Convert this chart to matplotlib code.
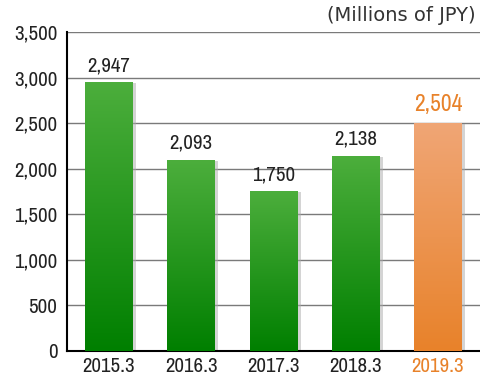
import matplotlib
matplotlib.use('Agg')
import matplotlib.pyplot as plt
import matplotlib.colors as colors
from matplotlib import font_manager
import numpy as np

years = ['2015.3', '2016.3', '2017.3', '2018.3', '2019.3']
values = [2947, 2093, 1750, 2138, 2504]
highlight = [False, False, False, False, True]

green = ('#4cae3c', '#007f00')
orange = ('#f0a676', '#e8822a')

names = sorted(set(f.name for f in font_manager.fontManager.ttflist))
narrow = [n for n in names if 'Narrow' in n or 'Condensed' in n]
plt.rcParams['font.family'] = narrow[:1] + ['DejaVu Sans']

fig = plt.figure(figsize=(4.8, 3.76), dpi=100)
ax = fig.add_axes([0.1396, 0.0665, 0.8604, 0.8484])

x = np.arange(len(years))
w = 0.58

# drop shadows
ax.bar(x + 0.04, values, w, bottom=-10, color='#aaaaaa', alpha=0.5, zorder=2)
bars = ax.bar(x, values, w, color='none', zorder=3)

for b, hl in zip(bars, highlight):
    top, bot = orange if hl else green
    cmap = colors.LinearSegmentedColormap.from_list('g', [bot, top])
    grad = np.linspace(0, 1, 256).reshape(-1, 1)
    x0, y0 = b.get_x(), b.get_y()
    im = ax.imshow(grad, cmap=cmap, aspect='auto', origin='lower',
                   extent=[x0, x0 + b.get_width(), y0, y0 + b.get_height()], zorder=3)
    im.set_clip_path(b)

ax.set_xlim(-0.51, 4.51)
ax.set_ylim(0, 3500)

for xi, v, hl in zip(x, values, highlight):
    ax.text(xi, v + 80, '{:,}'.format(v), ha='center', va='bottom',
            fontsize=17 if hl else 15,
            color='#e8822a' if hl else '#222222', fontweight='bold' if hl else 'normal',
            fontstretch='condensed')

ax.set_yticks(np.arange(0, 3501, 500))
ax.set_yticklabels(['{:,}'.format(t) for t in range(0, 3501, 500)], fontsize=15,
                   fontstretch='condensed', color='#222222')
ax.set_xticks(x)
ax.set_xticklabels(years, fontsize=15, fontstretch='condensed', color='#222222')
for lab, hl in zip(ax.get_xticklabels(), highlight):
    if hl:
        lab.set_color('#e8822a')
        lab.set_fontweight('bold')

ax.grid(axis='y', color='#7a7a7a', linewidth=1)
ax.set_axisbelow(True)
ax.tick_params(axis='y', length=0, pad=7)
ax.tick_params(axis='x', length=0, pad=4)
ax.spines['top'].set_visible(False)
ax.spines['right'].set_visible(False)
ax.spines['left'].set_linewidth(1.5)
ax.spines['bottom'].set_linewidth(1.5)

fig.text(0.99, 0.985, '(Millions of JPY)', ha='right', va='top', fontsize=14,
         color='#333333', family='DejaVu Sans')

fig.savefig('out.png', dpi=100)
